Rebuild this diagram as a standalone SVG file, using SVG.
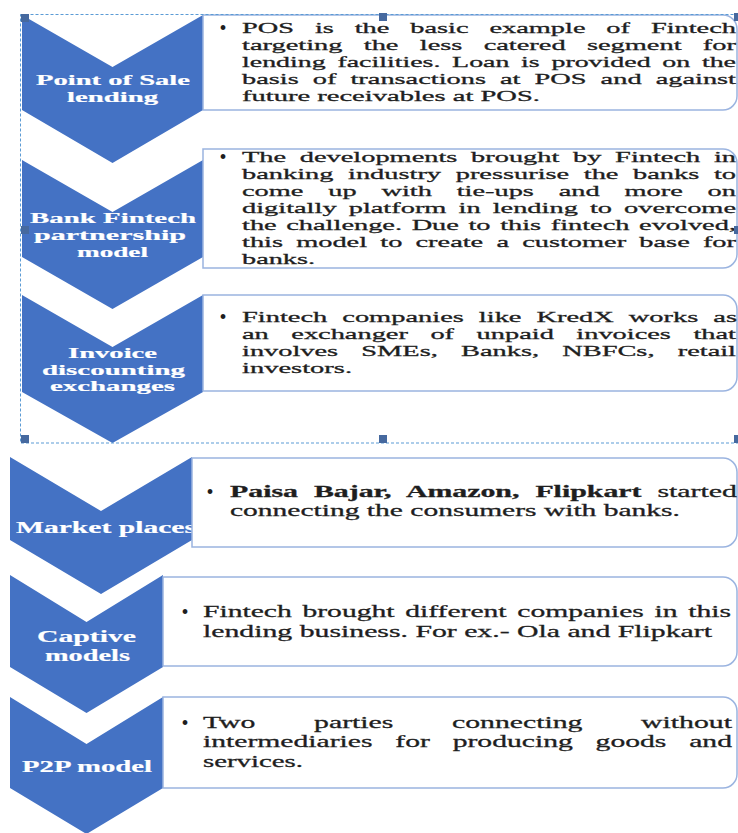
<svg xmlns="http://www.w3.org/2000/svg" width="738" height="833" viewBox="0 0 738 833">
  <style>
    .chev { fill: #4472c4; }
    .box { fill: #ffffff; stroke: #9bb4e0; stroke-width: 1.5; }
    .lbl { font-family: "Liberation Serif", "Times New Roman", serif; font-weight: bold; fill: #ffffff; stroke: #ffffff; stroke-width: 0.2; }
    .t { font-family: "Liberation Serif", "Times New Roman", serif; fill: #1e1e1e; stroke: #1e1e1e; stroke-width: 0.3; }
    .s1 { font-size: 15.5px; }
    .s2 { font-size: 17.5px; }
    .b { font-weight: bold; }
    .dot { font-family: "Liberation Serif", "Times New Roman", serif; font-size: 20px; fill: #1e1e1e; }
    .sel { fill: none; stroke: #5b9bd5; stroke-width: 1; stroke-dasharray: 3 2; }
    .hdl { fill: #46699f; }
  </style>

  <!-- chevrons with their labels; description boxes are drawn later on top -->
  <g id="node-pos">
    <polygon class="chev" points="22,15 112.5,67 203,15 203,110 112.5,163 22,110"/>
    <text class="lbl s1" x="36" y="85" textLength="154" lengthAdjust="spacingAndGlyphs">Point of Sale</text>
    <text class="lbl s1" x="67" y="102" textLength="91" lengthAdjust="spacingAndGlyphs">lending</text>
  </g>
  <g id="node-bank">
    <polygon class="chev" points="22,160 112.5,212 203,160 203,257 112.5,309 22,257"/>
    <text class="lbl s1" x="30" y="223" textLength="166" lengthAdjust="spacingAndGlyphs">Bank Fintech</text>
    <text class="lbl s1" x="34" y="240" textLength="152" lengthAdjust="spacingAndGlyphs">partnership</text>
    <text class="lbl s1" x="77" y="257" textLength="71" lengthAdjust="spacingAndGlyphs">model</text>
  </g>
  <g id="node-invoice">
    <polygon class="chev" points="22,295 112.5,347 203,295 203,392 112.5,443 22,392"/>
    <text class="lbl s1" x="68" y="358" textLength="89" lengthAdjust="spacingAndGlyphs">Invoice</text>
    <text class="lbl s1" x="42" y="375" textLength="143" lengthAdjust="spacingAndGlyphs">discounting</text>
    <text class="lbl s1" x="50" y="391" textLength="125" lengthAdjust="spacingAndGlyphs">exchanges</text>
  </g>
  <g id="node-market">
    <polygon class="chev" points="10,457 101,511 192,457 192,540 101,594 10,540"/>
    <text class="lbl s2" x="16" y="533" textLength="180" lengthAdjust="spacingAndGlyphs">Market places</text>
  </g>
  <g id="node-captive">
    <polygon class="chev" points="10,575 86.5,622 163,575 163,667 86.5,713 10,667"/>
    <text class="lbl s2" x="37" y="642" textLength="99" lengthAdjust="spacingAndGlyphs">Captive</text>
    <text class="lbl s2" x="45" y="661" textLength="85" lengthAdjust="spacingAndGlyphs">models</text>
  </g>
  <g id="node-p2p">
    <polygon class="chev" points="10,697 86.5,744 163,697 163,788 86.5,834 10,788"/>
    <text class="lbl s2" x="22" y="772" textLength="130" lengthAdjust="spacingAndGlyphs">P2P model</text>
  </g>

  <!-- description boxes -->
  <g id="node-pos-text">
    <path class="box" d="M203,15 H723 A14,14 0 0 1 737,29 V96 A14,14 0 0 1 723,110 H203 Z"/>
    <text class="dot" x="223" y="35" text-anchor="middle">•</text>
    <text class="t s1" x="242" y="33" textLength="494" lengthAdjust="spacingAndGlyphs" word-spacing="7.53">POS is the basic example of Fintech</text>
    <text class="t s1" x="242" y="50" textLength="494" lengthAdjust="spacingAndGlyphs" word-spacing="7.75">targeting the less catered segment for</text>
    <text class="t s1" x="242" y="67" textLength="494" lengthAdjust="spacingAndGlyphs" word-spacing="2.64">lending facilities. Loan is provided on the</text>
    <text class="t s1" x="242" y="84" textLength="494" lengthAdjust="spacingAndGlyphs" word-spacing="3.8">basis of transactions at POS and against</text>
    <text class="t s1" x="242" y="101" textLength="298" lengthAdjust="spacingAndGlyphs">future receivables at POS.</text>
  </g>
  <g id="node-bank-text">
    <path class="box" d="M203,149 H723 A14,14 0 0 1 737,163 V254 A14,14 0 0 1 723,268 H203 Z"/>
    <text class="dot" x="223" y="164" text-anchor="middle">•</text>
    <text class="t s1" x="242" y="162" textLength="494" lengthAdjust="spacingAndGlyphs" word-spacing="3.61">The developments brought by Fintech in</text>
    <text class="t s1" x="242" y="179" textLength="494" lengthAdjust="spacingAndGlyphs" word-spacing="4.12">banking industry pressurise the banks to</text>
    <text class="t s1" x="242" y="196" textLength="494" lengthAdjust="spacingAndGlyphs" word-spacing="9.69">come up with tie-ups and more on</text>
    <text class="t s1" x="242" y="213" textLength="494" lengthAdjust="spacingAndGlyphs" word-spacing="2.74">digitally platform in lending to overcome</text>
    <text class="t s1" x="242" y="230" textLength="494" lengthAdjust="spacingAndGlyphs" word-spacing="1.36">the challenge. Due to this fintech evolved,</text>
    <text class="t s1" x="242" y="247" textLength="494" lengthAdjust="spacingAndGlyphs" word-spacing="3.32">this model to create a customer base for</text>
    <text class="t s1" x="242" y="264" textLength="73" lengthAdjust="spacingAndGlyphs">banks.</text>
  </g>
  <g id="node-invoice-text">
    <path class="box" d="M203,295 H723 A14,14 0 0 1 737,309 V377 A14,14 0 0 1 723,391 H203 Z"/>
    <text class="dot" x="223" y="324" text-anchor="middle">•</text>
    <text class="t s1" x="242" y="322" textLength="495" lengthAdjust="spacingAndGlyphs" word-spacing="4.31">Fintech companies like KredX works as</text>
    <text class="t s1" x="242" y="339" textLength="494" lengthAdjust="spacingAndGlyphs" word-spacing="8.45">an exchanger of unpaid invoices that</text>
    <text class="t s1" x="242" y="356" textLength="494" lengthAdjust="spacingAndGlyphs" word-spacing="8.82">involves SMEs, Banks, NBFCs, retail</text>
    <text class="t s1" x="242" y="373" textLength="110" lengthAdjust="spacingAndGlyphs">investors.</text>
  </g>
  <g id="node-market-text">
    <path class="box" d="M192,458 H723 A14,14 0 0 1 737,472 V533 A14,14 0 0 1 723,547 H192 Z"/>
    <text class="dot" x="210" y="499" text-anchor="middle">•</text>
    <text class="t s2" x="230" y="497" textLength="507" lengthAdjust="spacingAndGlyphs" word-spacing="5"><tspan class="b">Paisa Bajar, Amazon, Flipkart</tspan> started</text>
    <text class="t s2" x="230" y="516" textLength="450" lengthAdjust="spacingAndGlyphs">connecting the consumers with banks.</text>
  </g>
  <g id="node-captive-text">
    <path class="box" d="M163,577 H723 A14,14 0 0 1 737,591 V652 A14,14 0 0 1 723,666 H163 Z"/>
    <text class="dot" x="185" y="619" text-anchor="middle">•</text>
    <text class="t s2" x="203" y="617" textLength="528" lengthAdjust="spacingAndGlyphs" word-spacing="1.93">Fintech brought different companies in this</text>
    <text class="t s2" x="203" y="637" textLength="509" lengthAdjust="spacingAndGlyphs">lending business. For ex.- Ola and Flipkart</text>
  </g>
  <g id="node-p2p-text">
    <path class="box" d="M163,697 H723 A14,14 0 0 1 737,711 V774 A14,14 0 0 1 723,788 H163 Z"/>
    <text class="dot" x="185" y="730" text-anchor="middle">•</text>
    <text class="t s2" x="203" y="728" textLength="529" lengthAdjust="spacingAndGlyphs" word-spacing="30.1">Two parties connecting without</text>
    <text class="t s2" x="203" y="747" textLength="529" lengthAdjust="spacingAndGlyphs" word-spacing="9.1">intermediaries for producing goods and</text>
    <text class="t s2" x="203" y="767" textLength="100" lengthAdjust="spacingAndGlyphs">services.</text>
  </g>

  <g id="connectors"/>

  <!-- selection frame round the first three items, with its sizing handles -->
  <g id="selection">
    <rect class="sel" x="20.5" y="14.5" width="730" height="428.5"/>
    <rect class="hdl" x="21" y="14" width="8" height="8"/>
    <rect class="hdl" x="21" y="226" width="8" height="8"/>
    <rect class="hdl" x="21" y="435" width="8" height="8"/>
    <rect class="hdl" x="379" y="13" width="8" height="8"/>
    <rect class="hdl" x="379" y="435" width="8" height="8"/>
    <rect class="hdl" x="734" y="13" width="8" height="8"/>
    <rect class="hdl" x="734" y="226" width="8" height="8"/>
    <rect class="hdl" x="734" y="435" width="8" height="8"/>
  </g>
</svg>
